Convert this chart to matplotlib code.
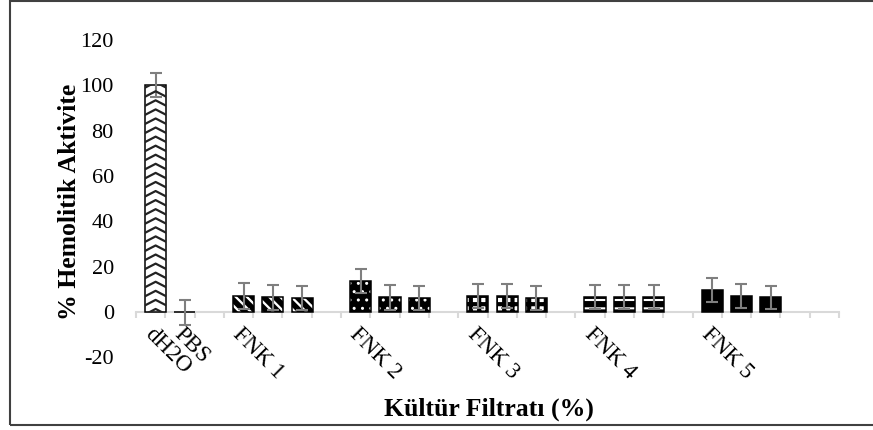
import matplotlib
matplotlib.use("Agg")
import matplotlib.pyplot as plt
import numpy as np
from matplotlib.colors import to_rgba
from matplotlib.patches import Rectangle

# ---- data ----
categories = ["dH2O", "PBS", "FNK 1", "FNK 2", "FNK 3", "FNK 4", "FNK 5"]
ctrl_values = [100.0, 0.0]
ctrl_errors = [5.3, 5.5]
fnk1_values = [7.0, 6.5, 6.3]
fnk1_errors = [5.8, 5.4, 5.3]
fnk2_values = [13.8, 6.5, 6.3]
fnk2_errors = [5.3, 5.4, 5.3]
fnk3_values = [7.0, 7.0, 6.3]
fnk3_errors = [5.2, 5.2, 5.3]
fnk4_values = [6.7, 6.6, 6.6]
fnk4_errors = [5.1, 5.2, 5.2]
fnk5_values = [9.7, 7.0, 6.5]
fnk5_errors = [5.4, 5.3, 5.1]
yticks = [-20, 0, 20, 40, 60, 80, 100, 120]
ylabel = "% Hemolitik Aktivite"
xlabel = "Kültür Filtratı (%)"

plt.rcParams["font.family"] = ["Liberation Serif", "DejaVu Serif"]

fig = plt.figure(figsize=(8.73, 4.30), dpi=100)
ax = fig.add_axes([136 / 873, 1 - 357.5 / 430, 703 / 873, 317.5 / 430])

n_slots = 24
bar_w = 0.72
off = 0.67
err_kw = dict(ecolor="#7f7f7f", elinewidth=1.5, capsize=4.2, capthick=1.5)

def draw_group(slots, vals, errs, face, hatch=None, hcolor="black", hlw=1.0):
    x = np.array(slots) + off
    bars = ax.bar(x, vals, width=bar_w, yerr=errs, facecolor=face,
                  edgecolor="black", linewidth=1.1, hatch=hatch,
                  error_kw=err_kw, zorder=2)
    for p in bars.patches:
        if hatch:
            p._hatch_color = to_rgba(hcolor)
            if hasattr(p, "set_hatch_linewidth"):
                p.set_hatch_linewidth(hlw)
    return bars

# controls
ctrl = draw_group([0, 1], ctrl_values, ctrl_errors, "white")
# zigzag pattern on dH2O bar
p = ctrl.patches[0]
x0, w, h = p.get_x(), p.get_width(), p.get_height()
for yb in np.arange(-1.0, h + 4, 4.0):
    ln, = ax.plot([x0, x0 + w / 2, x0 + w], [yb, yb + 2.4, yb],
                  color="#222222", lw=1.6, zorder=2.5)
    ln.set_clip_path(p)

group_vals = [fnk1_values, fnk2_values, fnk3_values, fnk4_values, fnk5_values]
group_errs = [fnk1_errors, fnk2_errors, fnk3_errors, fnk4_errors, fnk5_errors]
styles = [
    dict(face="white", hatch="\\\\\\", hcolor="black", hlw=4.0),
    dict(face="black", hatch="..", hcolor="white", hlw=1.0),
    dict(face="white", hatch="++", hcolor="black", hlw=3.0),
    dict(face="white", hatch="--", hcolor="black", hlw=4.5),
    dict(face="black", hatch=None),
]
label_pos = [0 + off, 1 + off]
for gi, (v, e, st) in enumerate(zip(group_vals, group_errs, styles)):
    start = 3 + 4 * gi
    slots = [start + k for k in range(len(v))]
    draw_group(slots, v, e, **st)
    label_pos.append(start + off)

ax.set_xlim(0, n_slots)
ax.set_ylim(-20, 120)
ax.set_yticks(yticks)
ax.set_yticklabels([str(t) for t in yticks])
ax.tick_params(axis="y", length=0, pad=16, labelsize=16)

for s in ["top", "right", "left"]:
    ax.spines[s].set_visible(False)
ax.spines["bottom"].set_position(("data", 0))
ax.spines["bottom"].set_color("#d9d9d9")
ax.spines["bottom"].set_linewidth(1.5)
ax.spines["bottom"].set_zorder(1)

ax.set_xticks(label_pos)
ax.set_xticklabels(categories, rotation=-45, ha="left", va="top",
                   rotation_mode="anchor", fontsize=16.5)
ax.tick_params(axis="x", which="major", length=0, pad=8)
ax.set_xticks(np.arange(0, n_slots + 1), minor=True)
ax.tick_params(axis="x", which="minor", length=4.5, width=1.5,
               color="#d9d9d9", direction="out")

ax.set_ylabel(ylabel, fontsize=18.5, fontweight="bold")
ax.yaxis.set_label_coords(-0.078, 0.49)
ax.set_xlabel(xlabel, fontsize=18.5, fontweight="bold")
ax.xaxis.set_label_coords(0.502, -0.125)

fig.patches.append(Rectangle((10 / 873, 5 / 430), 1.2, 424 / 430,
                             transform=fig.transFigure, fill=False,
                             edgecolor="#404040", lw=1.5))

fig.savefig("out.png", dpi=100)
